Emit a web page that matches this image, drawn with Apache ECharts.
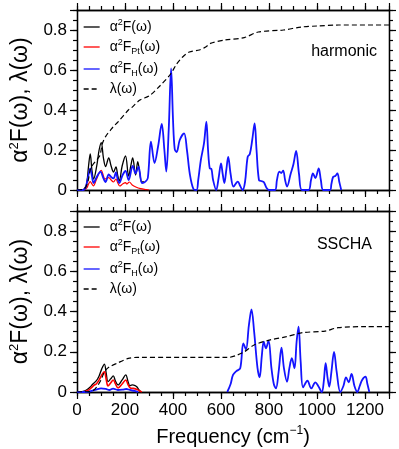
<!DOCTYPE html>
<html>
<head>
<meta charset="utf-8">
<script src="https://cdn.jsdelivr.net/npm/echarts@6/dist/echarts.min.js"></script>
<style>
  html, body { margin: 0; padding: 0; background: #fff; }
  #chart { width: 399px; height: 449px; }
</style>
</head>
<body>
<div id="chart"></div>
<script>
// ticks
const freqTicksMajor = [0, 200, 400, 600, 800, 1000, 1200];
const freqTickStep = 50;
const yTicksMajor = [0, 0.2, 0.4, 0.6, 0.8];
const yTickStep = 0.05;

const panelLabels = ['harmonic', 'SSCHA'];

// harmonic panel, [frequency cm-1, value]
const harmTotal = [[0, 0], [20, 0], [30, 0.005], [40, 0.03], [48, 0.12], [55, 0.18], [62, 0.1],
  [69, 0.055], [82, 0.12], [92, 0.2], [101, 0.237], [110, 0.16], [119, 0.117], [132, 0.16],
  [142, 0.12], [152, 0.09], [162, 0.115], [170, 0.07], [176, 0.045], [188, 0.12], [202, 0.17],
  [215, 0.07], [224, 0.12], [232, 0.16], [244, 0.075], [253, 0.142], [262, 0.08], [270, 0.04],
  [280, 0.04]];
const harmPt = [[0, 0], [25, 0], [40, 0.01], [48, 0.03], [55, 0.042], [62, 0.03], [68, 0.02],
  [80, 0.05], [92, 0.085], [101, 0.098], [110, 0.07], [116, 0.055], [132, 0.062], [142, 0.05],
  [152, 0.04], [162, 0.055], [170, 0.035], [178, 0.02], [190, 0.03], [202, 0.037], [208, 0.03],
  [218, 0.04], [230, 0.025], [245, 0.015], [265, 0.007], [290, 0.002], [300, 0]];
const harmH = [[0, 0], [25, 0], [35, 0.01], [45, 0.06], [55, 0.108], [62, 0.07], [69, 0.035],
  [80, 0.06], [98, 0.092], [108, 0.065], [119, 0.04], [132, 0.078], [142, 0.065], [152, 0.058],
  [162, 0.088], [170, 0.05], [176, 0.035], [190, 0.075], [202, 0.095], [215, 0.05], [232, 0.12],
  [244, 0.083], [256, 0.117], [271, 0.035], [285, 0.042], [295, 0.06], [308, 0.242], [323, 0.135],
  [338, 0.22], [353, 0.33], [364, 0.2], [372, 0.092], [382, 0.3], [392, 0.608], [400, 0.35],
  [407, 0.205], [415, 0.19], [428, 0.25], [446, 0.283], [458, 0.2], [470, 0.08], [485, 0.005],
  [498, 0], [505, 0.05], [516, 0.15], [529, 0.233], [539, 0.342], [546, 0.2], [553, 0.108],
  [560, 0.105], [567, 0.05], [580, 0], [590, 0.06], [600, 0.133], [607, 0.08], [614, 0.035],
  [622, 0.1], [630, 0.165], [640, 0.08], [652, 0.017], [670, 0.042], [680, 0.02], [690, 0],
  [700, 0.04], [711, 0.165], [720, 0.18], [730, 0.25], [740, 0.333], [748, 0.2], [758, 0.05],
  [768, 0.045], [778, 0.04], [790, 0.01], [800, 0], [825, 0], [833, 0.05], [843, 0.092],
  [851, 0.085], [859, 0.097], [867, 0.05], [875, 0.017], [890, 0.08], [902, 0.13], [913, 0.195],
  [925, 0.08], [937, 0], [965, 0], [975, 0.05], [983, 0.083], [993, 0.06], [1007, 0.108],
  [1016, 0.05], [1026, 0], [1054, 0], [1060, 0.03], [1067, 0.065], [1076, 0.07], [1085, 0.083],
  [1093, 0.04], [1101, 0]];
const harmLambda = [[0, 0], [30, 0.005], [45, 0.04], [55, 0.1], [65, 0.125], [85, 0.155],
  [96, 0.175], [105, 0.23], [119, 0.267], [140, 0.3], [150, 0.315], [172, 0.342], [214, 0.4],
  [226, 0.41], [262, 0.45], [300, 0.47], [345, 0.52], [390, 0.58], [415, 0.63], [440, 0.665],
  [468, 0.69], [510, 0.7], [536, 0.715], [556, 0.733], [616, 0.75], [697, 0.762], [755, 0.79],
  [860, 0.8], [935, 0.815], [1000, 0.82], [1090, 0.825], [1300, 0.825]];

// SSCHA panel
const sschaTotal = [[0, 0], [12, 0], [25, 0.003], [39, 0.01], [55, 0.025], [66, 0.04], [80, 0.055],
  [92, 0.08], [103, 0.115], [114, 0.139], [122, 0.09], [129, 0.052], [140, 0.065], [151, 0.08],
  [160, 0.055], [171, 0.035], [188, 0.06], [203, 0.085], [213, 0.05], [220, 0.032], [230, 0.035],
  [242, 0.032], [250, 0.025], [258, 0.01], [266, 0]];
const sschaPt = [[0, 0], [20, 0], [40, 0.005], [59, 0.02], [70, 0.033], [80, 0.04], [92, 0.06],
  [103, 0.085], [114, 0.1], [122, 0.06], [129, 0.03], [140, 0.045], [151, 0.06], [160, 0.04],
  [171, 0.02], [188, 0.04], [203, 0.06], [213, 0.035], [222, 0.02], [235, 0.018], [250, 0.013],
  [262, 0.005], [270, 0]];
const sschaH = [[0, 0], [40, 0], [60, 0.005], [80, 0.012], [100, 0.018], [120, 0.015], [135, 0.01],
  [150, 0.017], [170, 0.01], [190, 0.012], [205, 0.015], [220, 0.01], [240, 0.005], [255, 0],
  [440, null],
  [626, 0], [640, 0.04], [650, 0.085], [664, 0.104], [680, 0.118], [693, 0.242], [704, 0.212],
  [716, 0.33], [727, 0.411], [738, 0.3], [752, 0.12], [761, 0.073], [770, 0.18], [778, 0.25],
  [787, 0.217], [798, 0.255], [810, 0.12], [820, 0.04], [829, 0.018], [840, 0.1], [852, 0.22],
  [862, 0.12], [875, 0.051], [885, 0.12], [895, 0.168], [906, 0.118], [915, 0.25], [923, 0.325],
  [932, 0.15], [942, 0.023], [960, 0.056], [976, 0.018], [993, 0.048], [1005, 0.03], [1020, 0],
  [1028, 0.05], [1036, 0.143], [1044, 0.07], [1051, 0.026], [1060, 0.1], [1071, 0.2], [1082, 0.1],
  [1097, 0], [1110, 0.03], [1121, 0.073], [1132, 0.048], [1144, 0.09], [1156, 0.03], [1168, 0],
  [1178, 0.03], [1188, 0.06], [1202, 0.076], [1210, 0.04], [1218, 0]];
const sschaLambda = [[0, 0], [50, 0.002], [70, 0.01], [85, 0.03], [100, 0.06], [110, 0.09],
  [120, 0.11], [135, 0.125], [167, 0.143], [214, 0.167], [250, 0.172], [630, 0.172], [660, 0.18],
  [697, 0.2], [738, 0.234], [805, 0.259], [872, 0.275], [939, 0.295], [1034, 0.303], [1088, 0.32],
  [1209, 0.325], [1300, 0.325]];

const FONT = '"Liberation Sans", Arial, sans-serif';

const legendNames = {
  total: '{t|α}{s|2}{t|F(ω)}',
  pt: '{t|α}{s|2}{t|F}{b|Pt}{t|(ω)}',
  h: '{t|α}{s|2}{t|F}{b|H}{t|(ω)}',
  lambda: '{t|λ(ω)}'
};

const richSmall = {
  t: { fontSize: 14, fontFamily: FONT, color: '#000', lineHeight: 18 },
  s: { fontSize: 9, fontFamily: FONT, color: '#000', lineHeight: 10, verticalAlign: 'top' },
  b: { fontSize: 9, fontFamily: FONT, color: '#000', lineHeight: 10, verticalAlign: 'bottom' }
};

const tickStyle = { color: '#000', width: 1.2 };

const chart = echarts.init(document.getElementById('chart'));

function makeXAxes(g) {
  const base = {
    gridIndex: g, type: 'value', min: 0, max: 1300,
    splitLine: { show: false },
    axisLine: { show: true, onZero: false, lineStyle: { color: '#000', width: 1.3 } }
  };
  const major = (pos) => Object.assign({}, base, {
    position: pos,
    interval: 200,
    axisTick: { show: true, length: 7, lineStyle: tickStyle },
    axisLabel: { show: false }
  });
  const minor = (pos) => Object.assign({}, base, {
    position: pos,
    interval: freqTickStep,
    axisTick: { show: true, length: 4, lineStyle: tickStyle },
    axisLabel: { show: false }
  });
  const bottomMajor = major('bottom');
  if (g === 1) {
    bottomMajor.axisLabel = {
      show: true, customValues: freqTicksMajor, margin: 10,
      fontSize: 17, fontFamily: FONT, color: '#000',
      formatter: (v) => String(v)
    };
    bottomMajor.name = '{t|Frequency (cm}{s|−1}{t|)}';
    bottomMajor.nameLocation = 'middle';
    bottomMajor.nameGap = 33;
    bottomMajor.nameTextStyle = {
      rich: {
        t: { fontSize: 20, fontFamily: FONT, color: '#000', lineHeight: 24 },
        s: { fontSize: 12, fontFamily: FONT, color: '#000', lineHeight: 12, verticalAlign: 'top' }
      }
    };
  }
  return [bottomMajor, minor('bottom'), major('top'), minor('top')];
}

function makeYAxes(g) {
  const base = {
    gridIndex: g, type: 'value', min: 0, max: 0.9,
    splitLine: { show: false },
    axisLine: { show: true, onZero: false, lineStyle: { color: '#000', width: 1.3 } }
  };
  const major = (pos) => Object.assign({}, base, {
    position: pos,
    interval: 0.2,
    axisTick: { show: true, length: 7, lineStyle: tickStyle },
    axisLabel: { show: false }
  });
  const minor = (pos) => Object.assign({}, base, {
    position: pos,
    interval: yTickStep,
    axisTick: { show: true, length: 4, lineStyle: tickStyle },
    axisLabel: { show: false }
  });
  const leftMajor = major('left');
  leftMajor.axisLabel = {
    show: true, customValues: yTicksMajor, margin: 10,
    fontSize: 17, fontFamily: FONT, color: '#000',
    formatter: (v) => (v === 0 ? '0' : v.toFixed(1))
  };
  leftMajor.name = '{t|α}{s|2}{t|F(ω), λ(ω)}';
  leftMajor.nameLocation = 'middle';
  leftMajor.nameRotate = 90;
  leftMajor.nameGap = 36;
  leftMajor.nameTextStyle = {
    rich: {
      t: { fontSize: 23, fontFamily: FONT, color: '#000', lineHeight: 26 },
      s: { fontSize: 13, fontFamily: FONT, color: '#000', lineHeight: 13, verticalAlign: 'top' }
    }
  };
  return [leftMajor, minor('left'), major('right'), minor('right')];
}

function spectrum(name, data, g, color, width) {
  return {
    name: name, type: 'line', data: data,
    xAxisIndex: g * 4, yAxisIndex: g * 4,
    symbol: 'none', smooth: 0.35, connectNulls: false,
    lineStyle: { color: color, width: width },
    itemStyle: { color: color },
    z: 3
  };
}

function lambdaLine(data, g) {
  return {
    name: 'lambda', type: 'line', data: data,
    xAxisIndex: g * 4, yAxisIndex: g * 4,
    symbol: 'none', smooth: 0.3,
    lineStyle: { color: '#000', width: 1.2, type: [5, 3] },
    itemStyle: { color: '#000' },
    z: 4
  };
}

function makeLegend(top) {
  return {
    show: true, orient: 'vertical', left: 83, top: top, padding: 0,
    itemWidth: 16, itemHeight: 12, itemGap: 4,
    selectedMode: false,
    data: ['total', 'pt', 'h', 'lambda'],
    formatter: (name) => legendNames[name],
    itemStyle: { opacity: 0 },
    lineStyle: { width: 1.3 },
    textStyle: { rich: richSmall, padding: [0, 0, 0, 5] }
  };
}

const option = {
  animation: false,
  backgroundColor: '#fff',
  grid: [
    { left: 67, right: 10, top: 10, height: 180 },
    { left: 67, right: 10, top: 211, height: 181 }
  ],
  xAxis: makeXAxes(0).concat(makeXAxes(1)),
  yAxis: makeYAxes(0).concat(makeYAxes(1)),
  legend: [makeLegend(18), makeLegend(218)],
  graphic: [
    {
      type: 'text', x: 377, y: 52,
      style: { text: panelLabels[0], font: '16px ' + FONT, fill: '#000', align: 'right', verticalAlign: 'middle' }
    },
    {
      type: 'text', x: 372, y: 245,
      style: { text: panelLabels[1], font: '16px ' + FONT, fill: '#000', align: 'right', verticalAlign: 'middle' }
    }
  ],
  series: [
    spectrum('total', harmTotal, 0, '#000', 1.3),
    spectrum('pt', harmPt, 0, '#ff0000', 1.2),
    spectrum('h', harmH, 0, '#1414ff', 1.8),
    lambdaLine(harmLambda, 0),
    spectrum('total', sschaTotal, 1, '#000', 1.3),
    spectrum('pt', sschaPt, 1, '#ff0000', 1.6),
    spectrum('h', sschaH, 1, '#1414ff', 1.8),
    lambdaLine(sschaLambda, 1)
  ]
};

chart.setOption(option);
</script>
</body>
</html>
